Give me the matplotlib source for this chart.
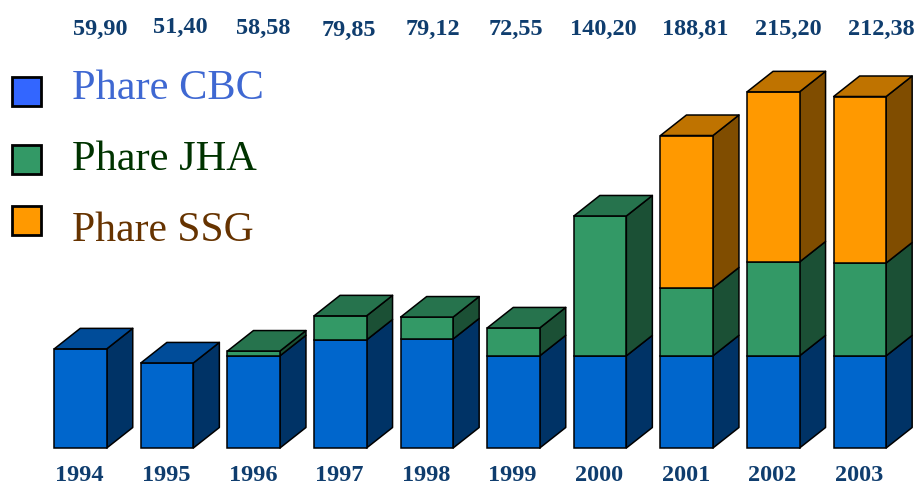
import numpy as np
import matplotlib
matplotlib.use("Agg")
import matplotlib.pyplot as plt
from matplotlib.patches import Polygon, Rectangle

years = ["1994", "1995", "1996", "1997", "1998", "1999", "2000", "2001", "2002", "2003"]
totals = ["59,90", "51,40", "58,58", "79,85", "79,12", "72,55", "140,20", "188,81", "215,20", "212,38"]

cbc = [59.9, 51.4, 55.7, 65.3, 65.9, 55.7, 55.7, 55.7, 55.7, 55.7]
jha = [0, 0, 2.88, 14.55, 13.22, 16.85, 84.5, 41.0, 56.7, 56.1]
ssg = [0, 0, 0, 0, 0, 0, 0, 92.11, 102.8, 100.58]

names = ["Phare CBC", "Phare JHA", "Phare SSG"]
series = [cbc, jha, ssg]
front = ["#0066cc", "#339966", "#ff9900"]
side = ["#003366", "#1b5035", "#804d00"]
top = ["#004c99", "#26734d", "#bf7300"]
swatch = ["#3366ff", "#339966", "#ff9900"]
name_col = ["#3f68d2", "#003300", "#663300"]

plt.rcParams['font.family'] = ['Liberation Serif', 'DejaVu Serif']

W, H = 917, 486
fig = plt.figure(figsize=(W / 100, H / 100), dpi=100)
ax = fig.add_axes([0, 0, 1, 1])

# one category = 86.6 px, one unit = 1.655 px, baseline at y=448 px
xpx = 86.6
ypx = 1.655
ax.set_xlim(-80.5 / xpx, (W - 80.5) / xpx)
ax.set_ylim(-(H - 448) / ypx, 448 / ypx)
ax.axis("off")

bw = 52.5 / xpx
dx = 26 / xpx
dy = 20.5 / ypx

for i in range(len(years)):
    l = i - bw / 2
    r = i + bw / 2
    base = 0
    last = 0
    for s in range(3):
        if series[s][i] > 0:
            last = s
    for s in range(3):
        v = series[s][i]
        if v <= 0:
            continue
        t = base + v
        ax.add_patch(Polygon([(r, base), (r + dx, base + dy), (r + dx, t + dy), (r, t)],
                             fc=side[s], ec="black", lw=1.1, joinstyle="round"))
        ax.add_patch(Rectangle((l, base), bw, v, fc=front[s], ec="black", lw=1.1))
        if s == last:
            ax.add_patch(Polygon([(l, t), (r, t), (r + dx, t + dy), (l + dx, t + dy)],
                                 fc=top[s], ec="black", lw=1.1, joinstyle="round"))
        base = t
    ax.text(i - 0.01, -27.5 / ypx, years[i], ha="center", va="center", fontsize=17.5,
            fontweight="bold", color="#0f3d6e")

# the total labels sit slightly off the bars in the original
total_x = [100.5, 180, 263, 349, 433, 516, 603, 695, 788, 881]
total_y = [29, 27, 28, 30, 29, 29, 29, 29, 29, 29]
for lab, px, py in zip(totals, total_x, total_y):
    ax.text(px / W, 1 - py / H, lab, transform=ax.transAxes, ha="center", va="center",
            fontsize=17.5, fontweight="bold", color="#0f3d6e")

# legend
box_y = [77, 145, 206]
text_y = [89, 160, 231]
name_size = [30.5, 30.5, 30]
for k in range(3):
    ax.add_patch(Rectangle((12 / W, 1 - (box_y[k] + 29) / H), 29 / W, 29 / H, transform=ax.transAxes,
                           fc=swatch[k], ec="black", lw=2))
    ax.text(72 / W, 1 - text_y[k] / H, names[k], transform=ax.transAxes, ha="left", va="center",
            fontsize=name_size[k], color=name_col[k])

fig.savefig("out.png", dpi=100)
